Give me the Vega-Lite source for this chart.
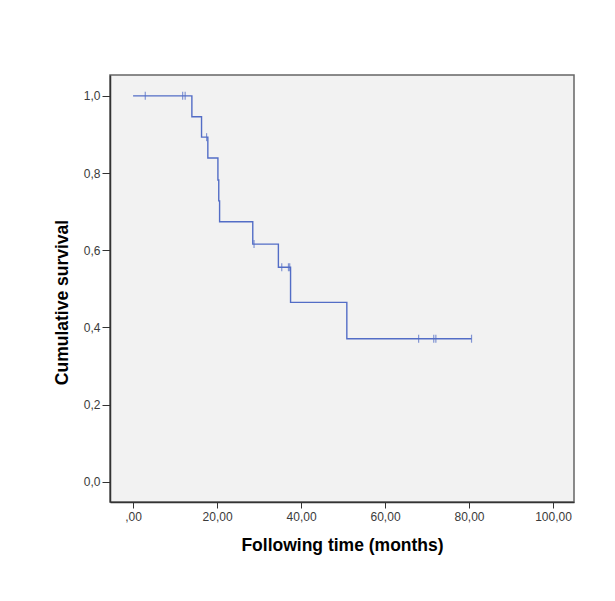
{
  "$schema": "https://vega.github.io/schema/vega-lite/v6.json",
  "width": 464,
  "height": 427,
  "autosize": "none",
  "padding": {"left": 110, "top": 75, "right": 41, "bottom": 99},
  "background": "white",
  "config": {
    "view": {"fill": "#f2f2f2", "stroke": "#666666", "strokeWidth": 1.5},
    "font": "Liberation Sans"
  },
  "data": {
    "values": [
      {"t": 0, "S": 1, "censored": 0},
      {"t": 2.9, "S": 1, "censored": 1},
      {"t": 11.8, "S": 1, "censored": 1},
      {"t": 12.4, "S": 1, "censored": 1},
      {"t": 14.0, "S": 0.946, "censored": 0},
      {"t": 16.3, "S": 0.893, "censored": 0},
      {"t": 17.5, "S": 0.893, "censored": 1},
      {"t": 17.8, "S": 0.839, "censored": 0},
      {"t": 20.2, "S": 0.782, "censored": 0},
      {"t": 20.4, "S": 0.728, "censored": 0},
      {"t": 20.6, "S": 0.674, "censored": 0},
      {"t": 28.5, "S": 0.616, "censored": 0},
      {"t": 28.8, "S": 0.616, "censored": 1},
      {"t": 34.6, "S": 0.556, "censored": 0},
      {"t": 35.4, "S": 0.556, "censored": 1},
      {"t": 37.0, "S": 0.556, "censored": 1},
      {"t": 37.3, "S": 0.556, "censored": 1},
      {"t": 37.5, "S": 0.465, "censored": 0},
      {"t": 50.9, "S": 0.371, "censored": 0},
      {"t": 68.0, "S": 0.371, "censored": 1},
      {"t": 71.6, "S": 0.371, "censored": 1},
      {"t": 72.1, "S": 0.371, "censored": 1},
      {"t": 80.6, "S": 0.371, "censored": 1}
    ]
  },
  "layer": [
    {
      "mark": {"type": "line", "interpolate": "step-after", "color": "#536dc6", "strokeWidth": 1.4},
      "encoding": {
        "x": {
          "field": "t", "type": "quantitative",
          "scale": {"domain": [-5.5, 105], "nice": false, "zero": false},
          "axis": {
            "values": [0, 20, 40, 60, 80, 100],
            "labelExpr": "datum.value == 0 ? ',00' : replace(format(datum.value, '.2f'), '.', ',')",
            "title": "Following time (months)",
            "titleFontSize": 17.5, "titleFontWeight": "bold", "titleColor": "#000000", "titlePadding": 14,
            "labelFontSize": 12, "labelColor": "#3a3a3a", "labelPadding": 3,
            "tickSize": 6, "tickColor": "#333333", "domainColor": "#333333", "domainWidth": 1.5,
            "grid": false
          }
        },
        "y": {
          "field": "S", "type": "quantitative",
          "scale": {"domain": [-0.052, 1.054], "nice": false, "zero": false},
          "axis": {
            "values": [0, 0.2, 0.4, 0.6, 0.8, 1.0],
            "labelExpr": "replace(format(datum.value, '.1f'), '.', ',')",
            "title": "Cumulative survival",
            "titleFontSize": 17.5, "titleFontWeight": "bold", "titleColor": "#000000", "titlePadding": 12,
            "titleY": 227,
            "labelFontSize": 12, "labelColor": "#3a3a3a", "labelPadding": 2,
            "tickSize": 8, "tickColor": "#333333", "domainColor": "#333333", "domainWidth": 1.5,
            "grid": false
          }
        },
        "order": {"field": "t"}
      }
    },
    {
      "transform": [{"filter": "datum.censored == 1"}],
      "mark": {"type": "tick", "orient": "vertical", "size": 8, "thickness": 1.2, "color": "#536dc6"},
      "encoding": {
        "x": {"field": "t", "type": "quantitative"},
        "y": {"field": "S", "type": "quantitative"}
      }
    }
  ]
}
